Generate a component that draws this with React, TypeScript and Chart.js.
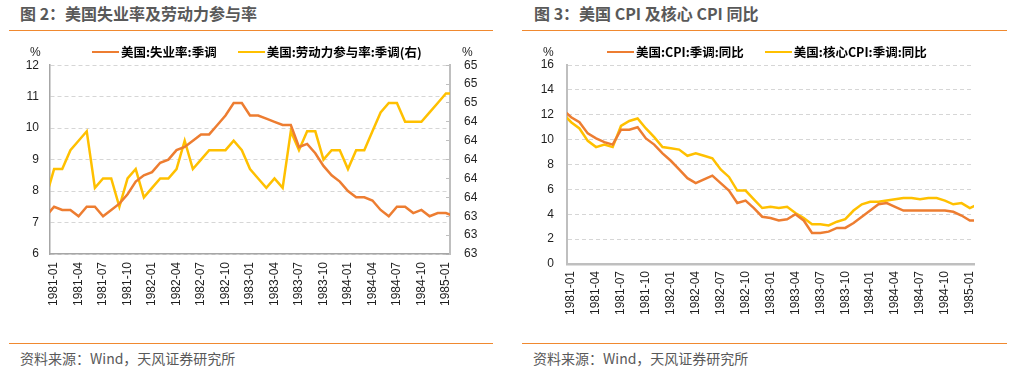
import React, { useEffect, useRef } from 'react';
import { Chart, registerables } from 'chart.js';

Chart.register(...registerables);

// ---------- data ----------
const months = [
  '1980-12',
  '1981-01', '1981-02', '1981-03', '1981-04', '1981-05', '1981-06', '1981-07', '1981-08', '1981-09', '1981-10', '1981-11', '1981-12',
  '1982-01', '1982-02', '1982-03', '1982-04', '1982-05', '1982-06', '1982-07', '1982-08', '1982-09', '1982-10', '1982-11', '1982-12',
  '1983-01', '1983-02', '1983-03', '1983-04', '1983-05', '1983-06', '1983-07', '1983-08', '1983-09', '1983-10', '1983-11', '1983-12',
  '1984-01', '1984-02', '1984-03', '1984-04', '1984-05', '1984-06', '1984-07', '1984-08', '1984-09', '1984-10', '1984-11', '1984-12',
  '1985-01', '1985-02',
];
const xTickIndex = [1, 4, 7, 10, 13, 16, 19, 22, 25, 28, 31, 34, 37, 40, 43, 46, 49];

const unemployment = [
  7.2,
  7.5, 7.4, 7.4, 7.2, 7.5, 7.5, 7.2, 7.4, 7.6, 7.9, 8.3, 8.5,
  8.6, 8.9, 9.0, 9.3, 9.4, 9.6, 9.8, 9.8, 10.1, 10.4, 10.8, 10.8,
  10.4, 10.4, 10.3, 10.2, 10.1, 10.1, 9.4, 9.5, 9.2, 8.8, 8.5, 8.3,
  8.0, 7.8, 7.8, 7.7, 7.4, 7.2, 7.5, 7.5, 7.3, 7.4, 7.2, 7.3,
  7.3, 7.2,
];
const participation = [
  63.6,
  63.9, 63.9, 64.1, 64.2, 64.3, 63.7, 63.8, 63.8, 63.5, 63.8, 63.9, 63.6,
  63.7, 63.8, 63.8, 63.9, 64.2, 63.9, 64.0, 64.1, 64.1, 64.1, 64.2, 64.1,
  63.9, 63.8, 63.7, 63.8, 63.7, 64.3, 64.1, 64.3, 64.3, 64.0, 64.1, 64.1,
  63.9, 64.1, 64.1, 64.3, 64.5, 64.6, 64.6, 64.4, 64.4, 64.4, 64.5, 64.6,
  64.7, 64.7,
];
const cpi = [
  12.4,
  11.8, 11.4, 10.5, 10.1, 9.8, 9.6, 10.8, 10.8, 11.0, 10.1, 9.6, 8.9,
  8.3, 7.6, 6.9, 6.5, 6.8, 7.1, 6.5, 5.9, 4.9, 5.1, 4.5, 3.8,
  3.7, 3.5, 3.6, 4.0, 3.5, 2.5, 2.5, 2.6, 2.9, 2.9, 3.3, 3.8,
  4.3, 4.8, 4.9, 4.6, 4.3, 4.3, 4.3, 4.3, 4.3, 4.3, 4.2, 3.9,
  3.5, 3.5,
];
const coreCpi = [
  12.1,
  11.4, 10.9, 9.9, 9.4, 9.6, 9.4, 11.1, 11.5, 11.7, 10.9, 10.2, 9.4,
  9.3, 9.2, 8.7, 8.9, 8.7, 8.5, 7.6, 7.0, 5.9, 5.9, 5.2, 4.5,
  4.6, 4.5, 4.6, 4.1, 3.7, 3.2, 3.2, 3.1, 3.4, 3.6, 4.3, 4.8,
  5.0, 5.0, 5.1, 5.2, 5.3, 5.3, 5.2, 5.3, 5.3, 5.1, 4.8, 4.9,
  4.5, 4.8,
];

const leftSeries = [
  { label: '美国:失业率:季调', color: '#ED7D31', values: unemployment, axis: 'y' },
  { label: '美国:劳动力参与率:季调(右)', color: '#FFC000', values: participation, axis: 'y1' },
];
const rightSeries = [
  { label: '美国:CPI:季调:同比', color: '#ED7D31', values: cpi, axis: 'y' },
  { label: '美国:核心CPI:季调:同比', color: '#FFC000', values: coreCpi, axis: 'y' },
];

// ---------- styles ----------
const TICK_FONT = { family: '"Liberation Sans", Arial, sans-serif', size: 12 };
const TICK_COLOR = '#1f1f1f';
const GRID_COLOR = '#D6D6D6';
const AXIS_COLOR = '#A6A6A6';
const RULE_COLOR = '#F0892F';

function makeDatasets(series: any[]) {
  return series.map((s) => ({
    label: s.label,
    data: s.values.map((v: number, i: number) => ({ x: i, y: v })),
    borderColor: s.color,
    backgroundColor: s.color,
    borderWidth: 2.5,
    pointRadius: 0,
    pointHoverRadius: 0,
    tension: 0,
    yAxisID: s.axis,
  }));
}

function xAxis(padding: number, height: number, borderColor: string, borderWidth: number) {
  return {
    type: 'linear',
    min: 0.5,
    max: months.length - 1.5,
    afterBuildTicks: (s: any) => {
      s.ticks = xTickIndex.map((v) => ({ value: v }));
    },
    afterFit: (s: any) => {
      s.height = height;
    },
    grid: { display: false, drawTicks: false },
    border: { display: true, color: borderColor, width: borderWidth },
    ticks: {
      autoSkip: false,
      minRotation: 90,
      maxRotation: 90,
      padding,
      color: TICK_COLOR,
      font: TICK_FONT,
      callback: (v: any) => months[Math.round(Number(v))] ?? '',
    },
  };
}

function LeftChart() {
  const ref = useRef<HTMLCanvasElement>(null);
  useEffect(() => {
    if (!ref.current) return;
    const chart = new Chart(ref.current, {
      type: 'line',
      data: { datasets: makeDatasets(leftSeries) as any },
      options: {
        animation: false,
        responsive: false,
        layout: { padding: { top: 25, left: 0, right: 0, bottom: 0 } },
        plugins: { legend: { display: false }, tooltip: { enabled: false } },
        scales: {
          x: xAxis(8, 86, AXIS_COLOR, 1.5) as any,
          y: {
            position: 'left',
            min: 6,
            max: 12,
            afterFit: (s: any) => {
              s.width = 50;
            },
            ticks: { stepSize: 1, padding: 11, color: TICK_COLOR, font: TICK_FONT },
            grid: { color: GRID_COLOR, lineWidth: 1, drawTicks: false },
            border: { display: true, color: AXIS_COLOR, width: 1.5, dash: [4, 3] },
          },
          y1: {
            position: 'right',
            min: 63,
            max: 65,
            afterFit: (s: any) => {
              s.width = 65;
            },
            ticks: {
              stepSize: 0.2,
              padding: 18,
              color: TICK_COLOR,
              font: TICK_FONT,
              callback: (v: any) => Number(v).toFixed(0),
            },
            grid: { drawOnChartArea: false, drawTicks: true, tickLength: -4, color: '#BFBFBF', lineWidth: 1 },
            border: { display: true, color: '#BFBFBF', width: 2 },
          },
        },
      } as any,
    });
    return () => chart.destroy();
  }, []);
  return <canvas ref={ref} width={515} height={300} style={{ position: 'absolute', left: 0, top: 40 }} />;
}

function RightChart() {
  const ref = useRef<HTMLCanvasElement>(null);
  useEffect(() => {
    if (!ref.current) return;
    const chart = new Chart(ref.current, {
      type: 'line',
      data: { datasets: makeDatasets(rightSeries) as any },
      options: {
        animation: false,
        responsive: false,
        layout: { padding: { top: 25, left: 0, right: 56, bottom: 0 } },
        plugins: { legend: { display: false }, tooltip: { enabled: false } },
        scales: {
          x: xAxis(7, 76, '#BFBFBF', 2.5) as any,
          y: {
            position: 'left',
            min: 0,
            max: 16,
            afterFit: (s: any) => {
              s.width = 52;
            },
            ticks: { stepSize: 2, padding: 13, color: TICK_COLOR, font: TICK_FONT },
            grid: { color: GRID_COLOR, lineWidth: 1, drawTicks: false },
            border: { display: true, color: '#BFBFBF', width: 2, dash: [4, 3] },
          },
        },
      } as any,
    });
    return () => chart.destroy();
  }, []);
  return <canvas ref={ref} width={515} height={300} style={{ position: 'absolute', left: 515, top: 40 }} />;
}

function Legend({ series, left }: { series: any[]; left: number }) {
  return (
    <div style={{ position: 'absolute', left, top: 43, display: 'flex', alignItems: 'center', height: 17 }}>
      {series.map((s) => (
        <div key={s.label} style={{ display: 'flex', alignItems: 'center', marginRight: 21 }}>
          <div style={{ width: 27, height: 2, background: s.color, marginRight: 2 }} />
          <span style={{ fontSize: 12.5, fontWeight: 700, color: '#000', lineHeight: '17px', whiteSpace: 'nowrap' }}>
            {s.label}
          </span>
        </div>
      ))}
    </div>
  );
}

const pct = (left: number) => (
  <div
    style={{
      position: 'absolute',
      left,
      top: 45,
      fontFamily: '"Liberation Sans", Arial, sans-serif',
      fontSize: 12,
      lineHeight: '14px',
      color: '#1f1f1f',
    }}
  >
    %
  </div>
);

export default function App() {
  const titleStyle: any = {
    position: 'absolute',
    top: 3,
    fontSize: 16,
    fontWeight: 700,
    color: '#595959',
    lineHeight: '20px',
    whiteSpace: 'nowrap',
  };
  const footStyle: any = {
    position: 'absolute',
    top: 348,
    fontSize: 14,
    color: '#595959',
    lineHeight: '20px',
    whiteSpace: 'nowrap',
  };
  return (
    <div
      style={{
        position: 'absolute',
        left: 0,
        top: 0,
        width: 1030,
        height: 376,
        background: '#fff',
        overflow: 'hidden',
        fontFamily: '"Noto Sans CJK SC", "Noto Sans", sans-serif',
      }}
    >
      <div style={{ ...titleStyle, left: 20 }}>图 2：美国失业率及劳动力参与率</div>
      <div style={{ ...titleStyle, left: 534 }}>图 3：美国 CPI 及核心 CPI 同比</div>
      <div style={{ position: 'absolute', left: 9, top: 30, width: 484, height: 1, background: RULE_COLOR }} />
      <div style={{ position: 'absolute', left: 522, top: 30, width: 485, height: 1, background: RULE_COLOR }} />

      <LeftChart />
      <RightChart />

      {pct(30)}
      {pct(462)}
      {pct(543)}
      <Legend series={leftSeries} left={92} />
      <Legend series={rightSeries} left={607} />

      <div style={{ position: 'absolute', left: 9, top: 343, width: 484, height: 1, background: RULE_COLOR }} />
      <div style={{ position: 'absolute', left: 522, top: 343, width: 485, height: 1, background: RULE_COLOR }} />
      <div style={{ ...footStyle, left: 20 }}>资料来源：Wind，天风证券研究所</div>
      <div style={{ ...footStyle, left: 533 }}>资料来源：Wind，天风证券研究所</div>
    </div>
  );
}
